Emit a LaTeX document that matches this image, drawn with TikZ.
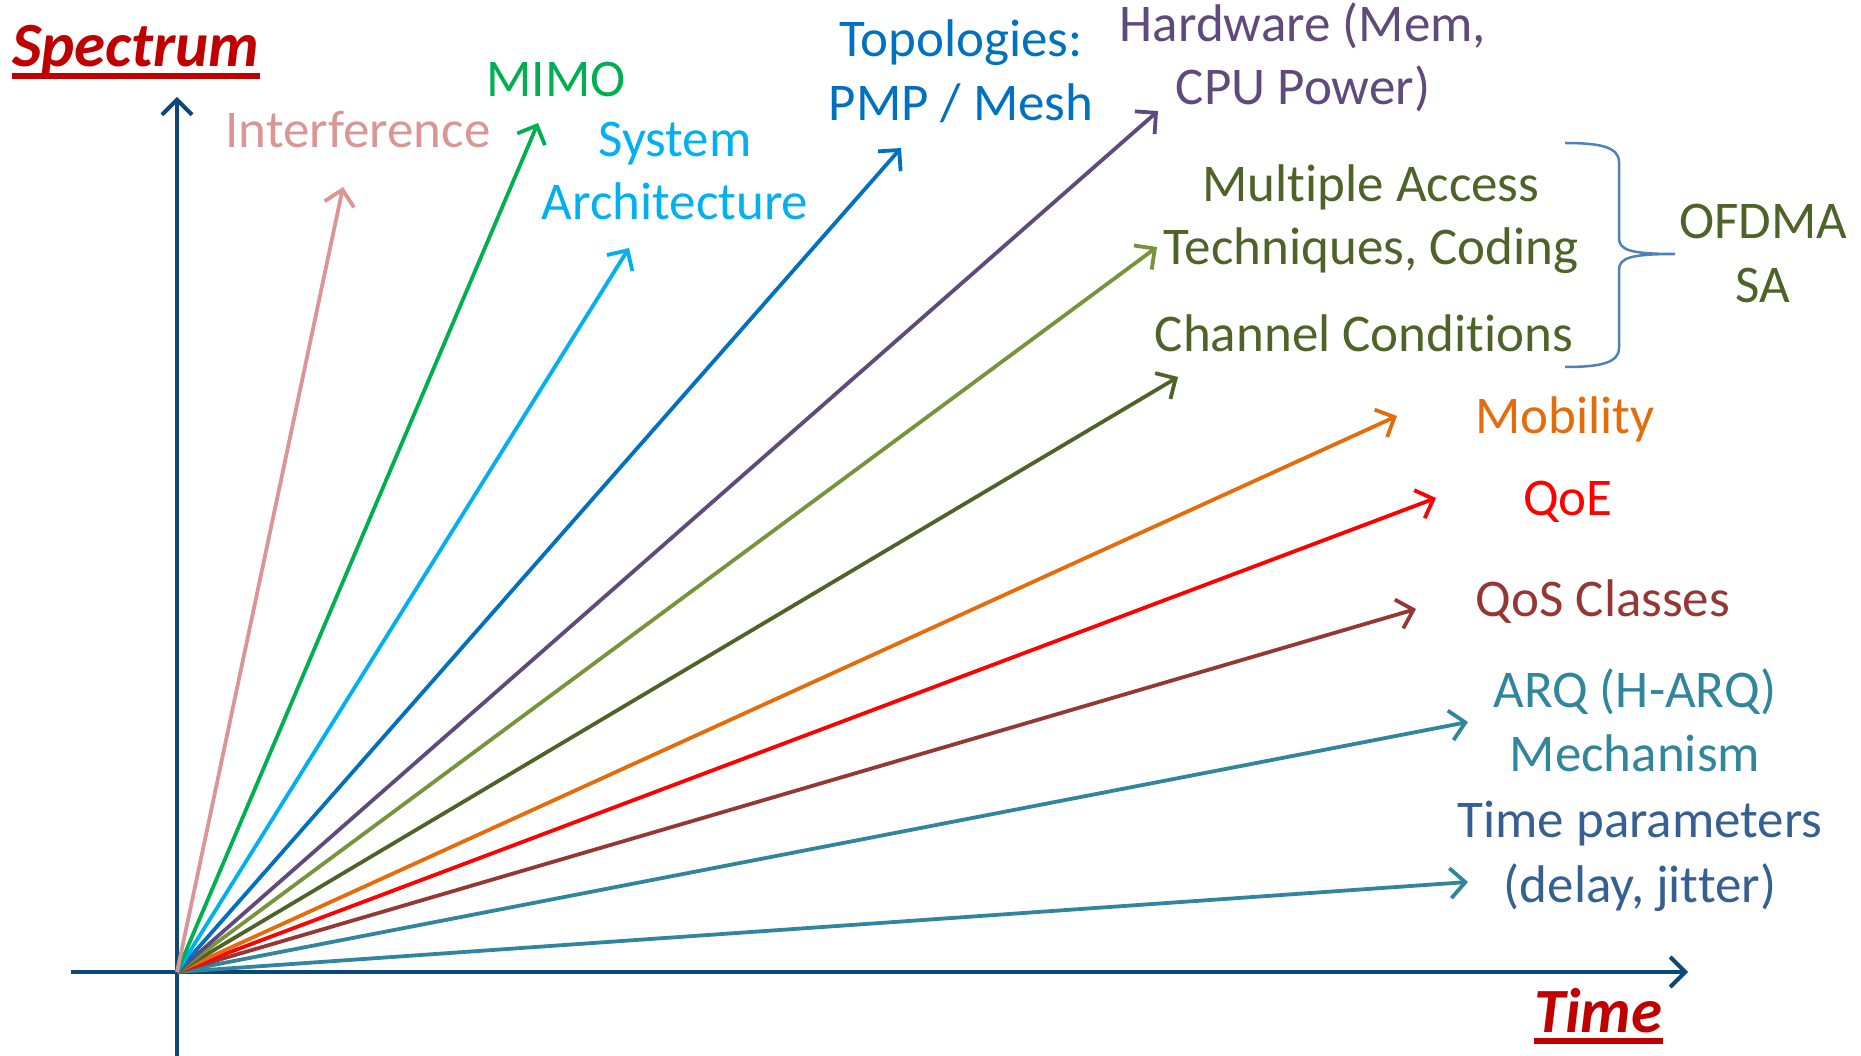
\documentclass[tikz,border=0pt]{standalone}
\usepackage{fontspec}
\setmainfont[Ligatures=NoCommon]{Carlito}
\usetikzlibrary{arrows.meta}
\definecolor{cDarkRed}{HTML}{C00000}
\definecolor{cAxis}{HTML}{0D4778}
\definecolor{cPink}{HTML}{D99694}
\definecolor{cGreen}{HTML}{00B050}
\definecolor{cSky}{HTML}{00B0F0}
\definecolor{cBlue}{HTML}{0070C0}
\definecolor{cPurple}{HTML}{604A7B}
\definecolor{cOlive}{HTML}{77933C}
\definecolor{cDkOlive}{HTML}{4F6228}
\definecolor{cOrange}{HTML}{E46C0A}
\definecolor{cRed}{HTML}{FF0000}
\definecolor{cBrown}{HTML}{953735}
\definecolor{cTeal}{HTML}{31859C}
\definecolor{cSteel}{HTML}{376092}
\definecolor{cBrace}{HTML}{4F81BD}
\begin{document}
\begin{tikzpicture}[x=1pt,y=-1pt,
  lbl/.style={inner sep=0pt, anchor=base, font=\fontsize{53}{64}\selectfont},
  ttl/.style={inner sep=0pt, anchor=base west, text=cDarkRed, font=\fontsize{63}{70}\selectfont\bfseries\itshape},
  vec/.style={line width=3.8pt, -{Straight Barb[length=15pt,width=30pt]}},
  axisline/.style={line width=4pt, draw=cAxis, -{Straight Barb[length=15pt,width=30pt]}},
  uline/.style={line width=6pt, draw=cDarkRed}]
\useasboundingbox (0,0) rectangle (1861,1056);
% axes
\coordinate (O) at (177,972);
\coordinate (yBot) at (177,1056);
\coordinate (yTop) at (177,97);
\coordinate (xLeft) at (71,972);
\coordinate (xRight) at (1688,972);
\draw[axisline] (yBot) -- (yTop);
\draw[axisline] (xLeft) -- (xRight);
% titles
\node[ttl] (nSpec) at (12,67) {Spectrum};
\draw[uline] ([yshift=-9pt]nSpec.base west) -- ([yshift=-9pt]nSpec.base east);
\node[ttl] (nTime) at (1534,1032) {Time};
\draw[uline] ([yshift=-9pt]nTime.base west) -- ([yshift=-9pt]nTime.base east);
% labels
\node[lbl, text=cPink] (nInterf) at (358,148) {Interference};
\node[lbl, text=cGreen] (nMimo) at (556,97) {MIMO};
\node[lbl, text=cSky] (nSys1) at (675,157) {System};
\node[lbl, text=cSky] (nSys2) at (675,220) {Architecture};
\node[lbl, text=cBlue] (nTopo1) at (961,57) {Topologies:};
\node[lbl, text=cBlue] (nTopo2) at (961,121) {PMP / Mesh};
\node[lbl, text=cPurple] (nHw1) at (1303,42) {Hardware (Mem,};
\node[lbl, text=cPurple] (nHw2) at (1303,105) {CPU Power)};
\node[lbl, text=cDkOlive] (nMa1) at (1371,202) {Multiple Access};
\node[lbl, text=cDkOlive] (nMa2) at (1371,265) {Techniques, Coding};
\node[lbl, text=cDkOlive] (nChan) at (1364,352) {Channel Conditions};
\node[lbl, text=cDkOlive] (nOf1) at (1763,239) {OFDMA};
\node[lbl, text=cDkOlive] (nOf2) at (1763,303) {SA};
\node[lbl, text=cOrange] (nMob) at (1565,433) {Mobility};
\node[lbl, text=cRed] (nQoe) at (1568,515) {QoE};
\node[lbl, text=cBrown] (nQos) at (1603,616) {QoS Classes};
\node[lbl, text=cTeal] (nArq1) at (1635,707) {ARQ (H-ARQ)};
\node[lbl, text=cTeal] (nArq2) at (1635,771) {Mechanism};
\node[lbl, text=cSteel] (nTp1) at (1640,837) {Time parameters};
\node[lbl, text=cSteel] (nTp2) at (1640,902) {(delay, jitter)};
% arrow tips
\coordinate (tInterf) at (343,187);
\coordinate (tMimo) at (538,123);
\coordinate (tSys) at (629,248);
\coordinate (tTopo) at (901,148);
\coordinate (tHw) at (1158,111);
\coordinate (tMa) at (1157,247);
\coordinate (tChan) at (1178,377);
\coordinate (tMob) at (1397,416);
\coordinate (tQoe) at (1436,498);
\coordinate (tQos) at (1416,609);
\coordinate (tArq) at (1468,722);
\coordinate (tTp) at (1468,882);
% vectors
\draw[vec, cTeal] (O) -- (tTp);
\draw[vec, cTeal] (O) -- (tArq);
\draw[vec, cBrown] (O) -- (tQos);
\draw[vec, cRed] (O) -- (tQoe);
\draw[vec, cOrange] (O) -- (tMob);
\draw[vec, cDkOlive] (O) -- (tChan);
\draw[vec, cOlive] (O) -- (tMa);
\draw[vec, cPurple] (O) -- (tHw);
\draw[vec, cBlue] (O) -- (tTopo);
\draw[vec, cSky] (O) -- (tSys);
\draw[vec, cGreen] (O) -- (tMimo);
\draw[vec, cPink] (O) -- (tInterf);
% brace
\coordinate (bTop) at (1565,143);
\coordinate (bTip) at (1675,254);
\coordinate (bBot) at (1565,367);
\draw[cBrace, line width=2.5pt, line join=round]
  (bTop) .. controls (1600,143) and (1619,147) .. (1619,162)
  -- (1619,238) .. controls (1619,250) and (1630,254) .. (bTip)
  (bTip) .. controls (1630,254) and (1619,258) .. (1619,270)
  -- (1619,348) .. controls (1619,363) and (1600,367) .. (bBot);
\end{tikzpicture}
\end{document}
